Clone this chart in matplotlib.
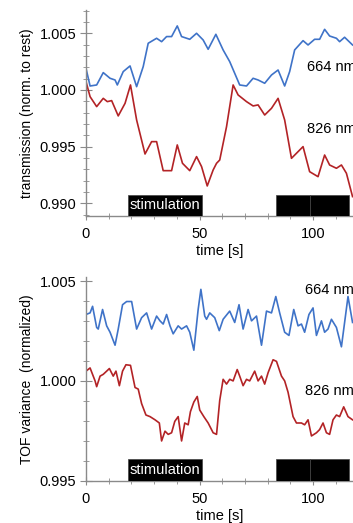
import matplotlib.pyplot as plt
from matplotlib.ticker import MultipleLocator

plt.rcParams['font.family'] = ['Liberation Sans', 'DejaVu Sans']

# --- top panel: transmission (norm. to rest) ---
t_top_blue = [0, 1.8, 4.7, 7.6, 10.6, 12.8, 13.8, 16.4, 19.4, 22.3, 25.2, 27.4, 31.1, 33.3,
              35.5, 37.7, 40.2, 42.1, 45.7, 48.7, 51.6, 53.8, 57.2, 60.4, 63.3, 67.7, 70.7,
              73.6, 75.8, 78.7, 81.7, 84.6, 87.5, 89.7, 91.9, 95.6, 97.8, 100.7, 102.9,
              105.1, 107.3, 110.3, 111.7, 113.9, 117.4]
v_top_blue = [1.00191, 1.00035, 1.00044, 1.00153, 1.00103, 1.00088, 1.00044, 1.00162, 1.00212,
              1.00029, 1.00206, 1.00412, 1.00456, 1.00426, 1.00471, 1.00471, 1.00565, 1.00471,
              1.00447, 1.00500, 1.00441, 1.00359, 1.00491, 1.00353, 1.00250, 1.00044, 1.00035,
              1.00103, 1.00088, 1.00059, 1.00132, 1.00176, 1.00035, 1.00162, 1.00353, 1.00435,
              1.00397, 1.00447, 1.00447, 1.00535, 1.00476, 1.00456, 1.00426, 1.00465, 1.00397]

t_top_red = [0, 1.8, 4.7, 7.6, 9.4, 11.3, 14.2, 17.2, 19.6, 22.3, 26.0, 28.9, 31.1, 34.0,
             37.7, 40.2, 42.5, 45.7, 48.7, 50.9, 53.4, 56.0, 57.5, 58.9, 61.9, 64.8, 67.0,
             70.7, 73.6, 75.8, 78.7, 81.7, 84.6, 87.5, 90.5, 95.6, 98.5, 102.2, 105.1, 107.3,
             110.3, 112.5, 114.7, 117.4]
v_top_red = [1.00074, 0.99941, 0.99853, 0.99926, 0.99897, 0.99906, 0.99771, 0.99882, 1.00044,
             0.99735, 0.99435, 0.99544, 0.99544, 0.99288, 0.99288, 0.99515, 0.99353, 0.99288,
             0.99412, 0.99324, 0.99153, 0.99294, 0.99353, 0.99382, 0.99676, 1.00044, 0.99956,
             0.99897, 0.99859, 0.99868, 0.99779, 0.99838, 0.99926, 0.99735, 0.99397, 0.99500,
             0.99279, 0.99235, 0.99426, 0.99338, 0.99309, 0.99338, 0.99265, 0.99059]

# --- bottom panel: TOF variance (normalized) ---
t_bot_blue = [0, 1.8, 2.9, 4.7, 5.4, 7.3, 9.1, 10.6, 12.8, 14.2, 16.1, 17.9, 20.1, 22.3, 24.5,
              26.7, 28.9, 31.1, 32.6, 34.0, 35.5, 37.0, 38.4, 40.6, 42.1, 44.3, 45.7, 47.5,
              49.4, 50.6, 52.3, 53.1, 54.5, 56.7, 58.7, 60.4, 63.3, 65.5, 67.4, 69.2, 71.4,
              72.9, 75.1, 77.3, 79.5, 81.7, 83.6, 85.3, 87.5, 89.4, 91.5, 93.4, 94.9, 96.3,
              98.2, 100.0, 101.5, 103.7, 105.1, 106.6, 108.1, 110.3, 112.5, 115.4, 117.4]
v_bot_blue = [1.00333, 1.00341, 1.00374, 1.00268, 1.00260, 1.00358, 1.00276, 1.00244, 1.00179,
              1.00260, 1.00382, 1.00398, 1.00398, 1.00260, 1.00317, 1.00341, 1.00260, 1.00325,
              1.00301, 1.00285, 1.00333, 1.00276, 1.00236, 1.00276, 1.00260, 1.00276, 1.00244,
              1.00154, 1.00358, 1.00459, 1.00325, 1.00309, 1.00341, 1.00317, 1.00252, 1.00309,
              1.00350, 1.00293, 1.00382, 1.00260, 1.00358, 1.00301, 1.00325, 1.00179, 1.00350,
              1.00341, 1.00423, 1.00341, 1.00244, 1.00228, 1.00358, 1.00276, 1.00285, 1.00244,
              1.00333, 1.00366, 1.00228, 1.00301, 1.00244, 1.00260, 1.00309, 1.00268, 1.00171,
              1.00423, 1.00293]

t_bot_red = [0, 1.8, 4.0, 4.7, 6.2, 7.6, 9.1, 10.3, 12.0, 13.2, 14.7, 16.1, 17.6, 19.6, 21.6,
             23.0, 24.5, 26.4, 28.2, 30.4, 32.3, 33.3, 34.8, 36.2, 37.7, 39.1, 40.6, 42.1,
             43.5, 45.0, 46.0, 47.5, 49.0, 50.1, 51.9, 53.8, 56.0, 57.5, 58.9, 60.4, 61.9,
             63.3, 64.8, 66.6, 67.7, 69.2, 70.7, 72.1, 74.3, 75.8, 77.3, 78.7, 80.2, 82.4,
             83.9, 86.1, 87.5, 89.0, 91.2, 92.7, 94.9, 96.3, 97.8, 99.3, 101.5, 102.9, 104.4,
             105.9, 107.3, 108.8, 110.3, 111.7, 113.5, 115.4, 117.4]
v_bot_red = [1.00049, 1.00065, 1.00000, 0.99971, 1.00024, 1.00033, 1.00049, 1.00062, 1.00024,
             1.00049, 0.99976, 1.00049, 1.00081, 1.00078, 0.99967, 0.99959, 0.99886, 0.99829,
             0.99821, 0.99805, 0.99789, 0.99699, 0.99748, 0.99732, 0.99740, 0.99797, 0.99821,
             0.99699, 0.99789, 0.99780, 0.99846, 0.99894, 0.99922, 0.99854, 0.99821, 0.99789,
             0.99740, 0.99732, 0.99902, 1.00008, 0.99984, 1.00008, 1.00000, 1.00057, 1.00024,
             0.99976, 1.00008, 1.00000, 1.00049, 1.00000, 1.00024, 0.99984, 1.00041, 1.00106,
             1.00098, 1.00024, 1.00000, 0.99943, 0.99821, 0.99789, 0.99789, 0.99780, 0.99805,
             0.99724, 0.99740, 0.99756, 0.99789, 0.99740, 0.99732, 0.99805, 0.99829, 0.99821,
             0.99870, 0.99821, 0.99805]

# stimulation periods (s)
stim_start = [18.5, 83.7, 98.7]
stim_width = [32.6, 15.0, 17.1]

blue = '#3f73c8'
red = '#b32326'
grey = '#8a8a8a'

fig = plt.figure(figsize=(3.53, 5.23), dpi=100)
ax1 = fig.add_axes([0.2436, 0.587, 0.7564, 0.394])
ax2 = fig.add_axes([0.2436, 0.081, 0.7564, 0.389])


def style(ax, ymin, ymax, bar_h):
    ax.set_xlim(0, 117.6)
    ax.set_ylim(ymin, ymax)
    ax.spines['top'].set_visible(False)
    ax.spines['right'].set_visible(False)
    for s in ['left', 'bottom']:
        ax.spines[s].set_color(grey)
        ax.spines[s].set_linewidth(1.0)
    ax.xaxis.set_major_locator(MultipleLocator(50))
    ax.xaxis.set_minor_locator(MultipleLocator(10))
    ax.yaxis.set_major_locator(MultipleLocator(0.005))
    ax.yaxis.set_minor_locator(MultipleLocator(0.001))
    ax.yaxis.set_major_formatter(plt.FormatStrFormatter('%.3f'))
    ax.tick_params(axis='both', which='both', direction='inout', color=grey, labelsize=10.5)
    ax.tick_params(axis='y', which='major', length=8, pad=3)
    ax.tick_params(axis='y', which='minor', length=5)
    ax.tick_params(axis='x', which='major', length=6, pad=5)
    ax.tick_params(axis='x', which='minor', length=4)
    ax.set_xlabel('time [s]', fontsize=10.5, labelpad=2)
    ax.broken_barh(list(zip(stim_start, stim_width)), (ymin, bar_h),
                   facecolors='black', edgecolors='#444444', linewidth=0.5, zorder=3)
    ax.text(stim_start[0] + stim_width[0] / 2, ymin + bar_h / 2, 'stimulation',
            color='white', fontsize=10.5, ha='center', va='center', zorder=4)


ax1.plot(t_top_blue, v_top_blue, color=blue, lw=1.2)
ax1.plot(t_top_red, v_top_red, color=red, lw=1.2)
style(ax1, 0.98888, 1.00706, 0.00186)
ax1.set_ylabel('transmission (norm. to rest)', fontsize=10, labelpad=4)
ax1.text(97.3, 1.0020, '664 nm', fontsize=10.5, va='center', ha='left')
ax1.text(97.3, 0.99652, '826 nm', fontsize=10.5, va='center', ha='left')

ax2.plot(t_bot_blue, v_bot_blue, color=blue, lw=1.2)
ax2.plot(t_bot_red, v_bot_red, color=red, lw=1.2)
style(ax2, 0.995, 1.0052, 0.0011)
ax2.set_ylabel('TOF variance  (normalized)', fontsize=10, labelpad=4)
ax2.text(96.4, 1.00455, '664 nm', fontsize=10.5, va='center', ha='left')
ax2.text(96.4, 0.99951, '826 nm', fontsize=10.5, va='center', ha='left')

fig.savefig('out.png', dpi=100)
